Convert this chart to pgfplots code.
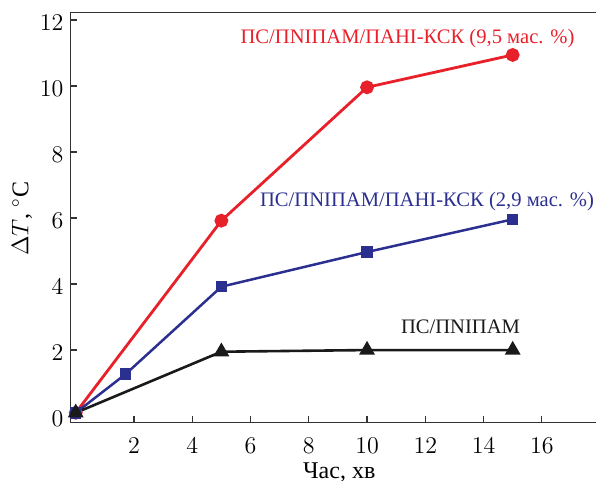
\documentclass[border=0pt]{standalone}
\usepackage{pgfplots}
\pgfplotsset{compat=1.18}
\usepackage{fontspec}
\setmainfont{Liberation Serif}
\definecolor{cred}{HTML}{E8202A}
\definecolor{cblue}{HTML}{2B2F8F}
\definecolor{cblack}{HTML}{1A1A1A}
\begin{document}
\begin{tikzpicture}
\begin{axis}[name=ax, scale only axis, width=262.75pt, height=205pt,
 xmin=-0.18, xmax=17.86, ymin=-0.2, ymax=12.22,
 axis lines=left, axis line style={-, line width=0.8pt, color=black!80},
 xtick={2,4,...,16}, ytick={0,2,...,12},
 tick align=inside, major tick length=3.3pt,
 tick style={line width=0.6pt, color=black!80},
 ticklabel style={font=\fontsize{12}{14}\selectfont},
 xticklabel style={yshift=-4pt}, yticklabel style={yshift=-1.5pt},
 xlabel={Час, хв}, ylabel={$\Delta T$, $^\circ$C},
 label style={font=\fontsize{12}{14}\selectfont},
 x label style={at={(axis description cs:0.5114,-0.122)}, anchor=center},
 y label style={at={(axis description cs:-0.0923,0.497)}, anchor=center},
 clip=false]
\addplot[cred, line width=1.4pt, mark=*, mark size=2.75pt] coordinates {(0,0.1)(5,5.92)(10,9.96)(15,10.94)};
\addplot[cblue, line width=1.25pt, mark=square*, mark size=2.25pt] coordinates {(0,0.1)(1.71,1.27)(5,3.92)(10,4.97)(15,5.96)};
\addplot[cblack, line width=1.3pt, mark=triangle*, mark size=3.3pt] coordinates {(0,0.1)(5,1.95)(10,2)(15,2)};
\draw[line width=0.8pt, black!80] (rel axis cs:0,1) -- (rel axis cs:1,1);
\node[text=cred, font=\fontsize{10.3}{12}\selectfont] at (axis cs:11.39,11.45) {ПС/ПNIПАМ/ПАНІ-КСК (9,5 мас. \%)};
\node[text=cblue, font=\fontsize{10.3}{12}\selectfont] at (axis cs:12.06,6.49) {ПС/ПNIПАМ/ПАНІ-КСК (2,9 мас. \%)};
\node[text=cblack, font=\fontsize{10.3}{12}\selectfont] at (axis cs:13.21,2.70) {ПС/ПNIПАМ};
\end{axis}
\pgfresetboundingbox
\path ([xshift=-35.25pt,yshift=-29.15pt]ax.south west) rectangle ([yshift=6.35pt]ax.north east);
\end{tikzpicture}
\end{document}
